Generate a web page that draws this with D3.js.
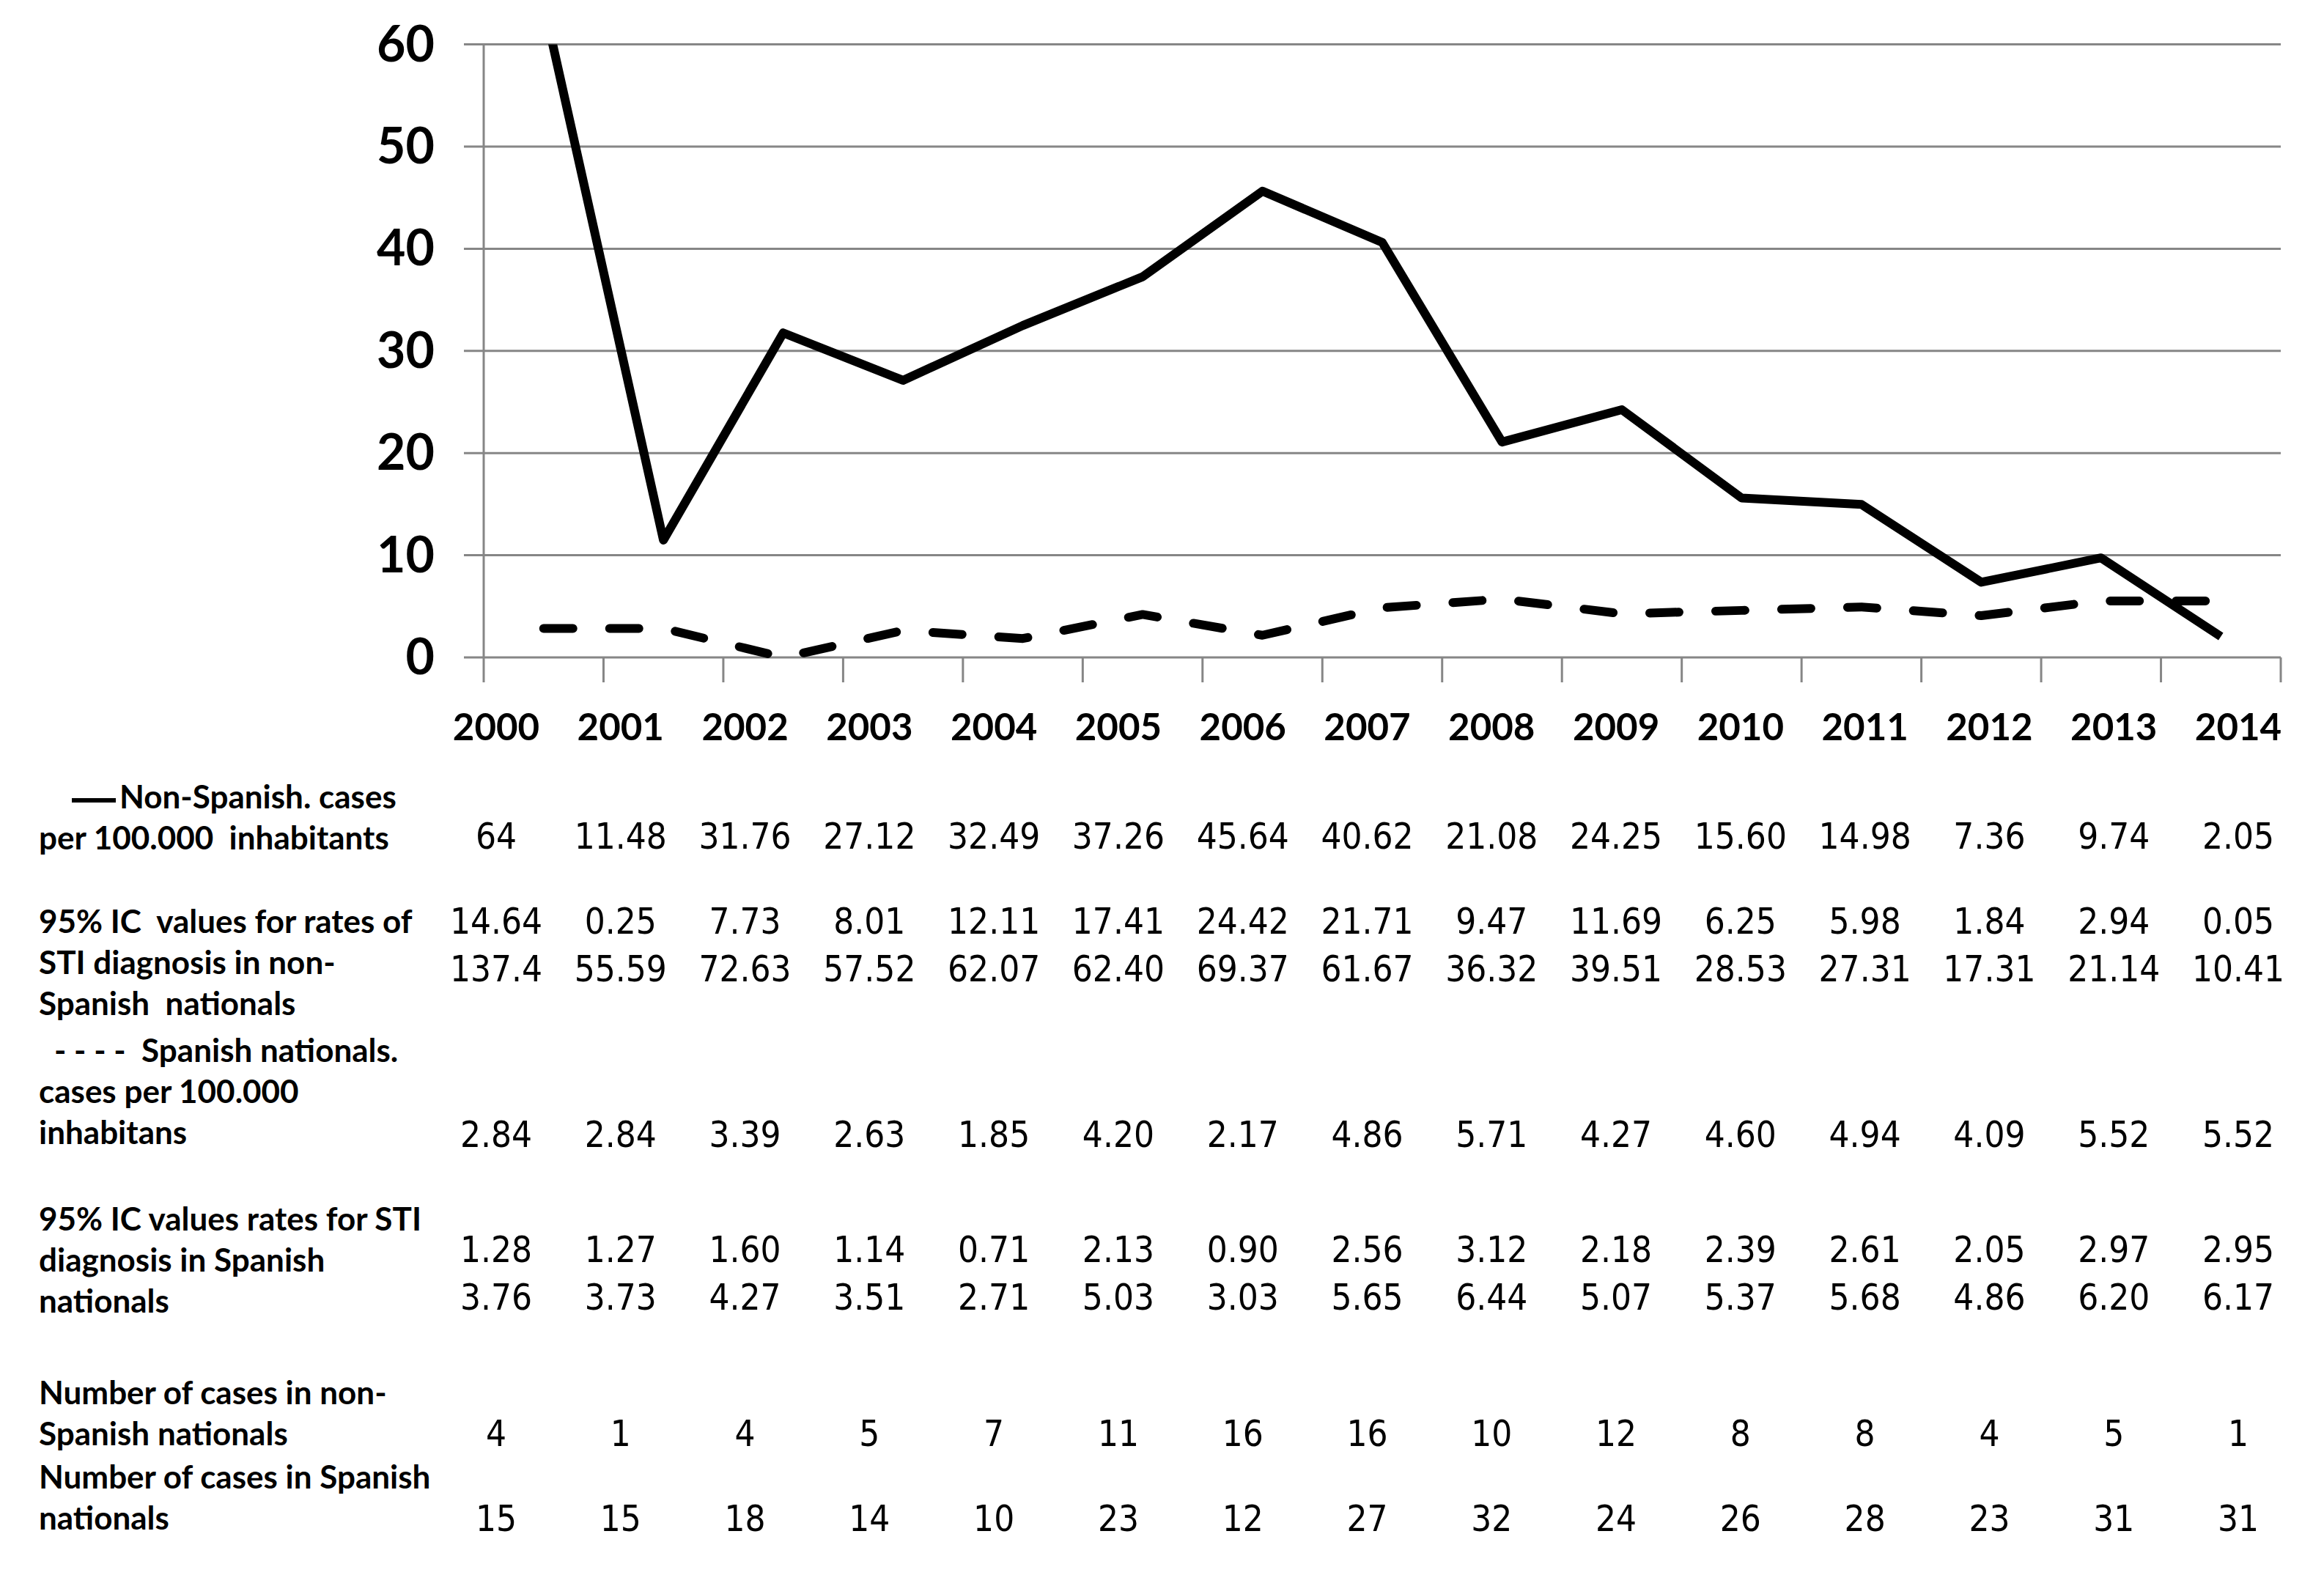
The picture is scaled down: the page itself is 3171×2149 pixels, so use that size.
<!DOCTYPE html>
<html>
<head>
<meta charset="utf-8">
<script src="https://cdn.jsdelivr.net/npm/d3@7"></script>
<style>
    body { margin: 0; background: #ffffff; }
    text { white-space: pre; }
</style>
</head>
<body>
<div id="chart"></div>
<script>
const width = 3171;
const height = 2149;

// Data
const years = ["2000", "2001", "2002", "2003", "2004", "2005", "2006", "2007",
               "2008", "2009", "2010", "2011", "2012", "2013", "2014"];
const yTicks = [0, 10, 20, 30, 40, 50, 60];

// plotted series (the dashed line touches 0 at 2002 in the figure)
const nonSpanishLine = [64, 11.48, 31.76, 27.12, 32.49, 37.26, 45.64, 40.62, 21.08, 24.25, 15.60, 14.98, 7.36, 9.74, 2.05];
const spanishLine = [2.84, 2.84, 0, 2.63, 1.85, 4.20, 2.17, 4.86, 5.71, 4.27, 4.60, 4.94, 4.09, 5.52, 5.52];

// table rows
const nonSpanishRate = ["64", "11.48", "31.76", "27.12", "32.49", "37.26", "45.64", "40.62", "21.08", "24.25", "15.60", "14.98", "7.36", "9.74", "2.05"];
const ciNonSpanishLow = ["14.64", "0.25", "7.73", "8.01", "12.11", "17.41", "24.42", "21.71", "9.47", "11.69", "6.25", "5.98", "1.84", "2.94", "0.05"];
const ciNonSpanishHigh = ["137.4", "55.59", "72.63", "57.52", "62.07", "62.40", "69.37", "61.67", "36.32", "39.51", "28.53", "27.31", "17.31", "21.14", "10.41"];
const spanishRate = ["2.84", "2.84", "3.39", "2.63", "1.85", "4.20", "2.17", "4.86", "5.71", "4.27", "4.60", "4.94", "4.09", "5.52", "5.52"];
const ciSpanishLow = ["1.28", "1.27", "1.60", "1.14", "0.71", "2.13", "0.90", "2.56", "3.12", "2.18", "2.39", "2.61", "2.05", "2.97", "2.95"];
const ciSpanishHigh = ["3.76", "3.73", "4.27", "3.51", "2.71", "5.03", "3.03", "5.65", "6.44", "5.07", "5.37", "5.68", "4.86", "6.20", "6.17"];
const casesNonSpanish = ["4", "1", "4", "5", "7", "11", "16", "16", "10", "12", "8", "8", "4", "5", "1"];
const casesSpanish = ["15", "15", "18", "14", "10", "23", "12", "27", "32", "24", "26", "28", "23", "31", "31"];

const rowLabels = [
    ["Non-Spanish. cases", "per 100.000  inhabitants"],
    ["95% IC  values for rates of", "STI diagnosis in non-", "Spanish  nationals"],
    ["- - - -  Spanish nationals.", "cases per 100.000", "inhabitans"],
    ["95% IC values rates for STI", "diagnosis in Spanish", "nationals"],
    ["Number of cases in non-", "Spanish nationals"],
    ["Number of cases in Spanish", "nationals"]
];
const rowValues = [
    [nonSpanishRate],
    [ciNonSpanishLow, ciNonSpanishHigh],
    [spanishRate],
    [ciSpanishLow, ciSpanishHigh],
    [casesNonSpanish],
    [casesSpanish]
];

// Layout
const plot = {left: 660, right: 3112, top: 60.6, bottom: 897};
const labelTop = [1103, 1273, 1449, 1679, 1916, 2031];
const labelIndent = [110, 0, 21, 0, 0, 0];
const valueTop = [1158, 1274, 1565, 1722, 1973, 2089];
const labelFont = "Lato, 'Open Sans', sans-serif";
const valueFont = "'DejaVu Sans Condensed', 'DejaVu Sans', sans-serif";

const x = d3.scaleBand().domain(years).range([plot.left, plot.right]);
const y = d3.scaleLinear().domain([0, 60]).range([plot.bottom, plot.top]);
const col = d3.scalePoint().domain(years).range([677, 3054]);

const svg = d3.create("svg")
    .attr("viewBox", [0, 0, width, height])
    .attr("width", width)
    .attr("height", height)
    .style("background", "#ffffff");

// gridlines
svg.append("g")
    .selectAll("line")
    .data(yTicks)
    .join("line")
    .attr("x1", plot.left - 27)
    .attr("x2", plot.right)
    .attr("y1", d => y(d))
    .attr("y2", d => y(d))
    .attr("stroke", "#868686")
    .attr("stroke-width", 3);

// vertical axis line
svg.append("line")
    .attr("x1", plot.left).attr("x2", plot.left)
    .attr("y1", y(60)).attr("y2", y(0) + 34)
    .attr("stroke", "#868686")
    .attr("stroke-width", 3);

// category ticks
svg.append("g")
    .selectAll("line")
    .data(years.slice(1).map(d => x(d)).concat(plot.right))
    .join("line")
    .attr("x1", d => d).attr("x2", d => d)
    .attr("y1", y(0)).attr("y2", y(0) + 34)
    .attr("stroke", "#868686")
    .attr("stroke-width", 3);

// y labels
svg.append("g")
    .selectAll("text")
    .data(yTicks)
    .join("text")
    .attr("x", 593)
    .attr("y", d => y(d) + 23)
    .attr("text-anchor", "end")
    .attr("font-family", labelFont)
    .attr("font-weight", "bold")
    .attr("font-size", 68)
    .text(d => d);

// lines
svg.append("clipPath")
    .attr("id", "plot-clip")
    .append("rect")
    .attr("x", plot.left)
    .attr("y", y(60))
    .attr("width", plot.right - plot.left)
    .attr("height", height);

const line = d3.line()
    .x((d, i) => x(years[i]) + x.bandwidth() / 2)
    .y(d => y(d));

const lines = svg.append("g").attr("clip-path", "url(#plot-clip)");

lines.append("path")
    .attr("d", line(spanishLine))
    .attr("fill", "none")
    .attr("stroke", "#000000")
    .attr("stroke-width", 12)
    .attr("stroke-linecap", "round")
    .attr("stroke-linejoin", "round")
    .attr("stroke-dasharray", "40 50");

lines.append("path")
    .attr("d", line(nonSpanishLine))
    .attr("fill", "none")
    .attr("stroke", "#000000")
    .attr("stroke-width", 12)
    .attr("stroke-linejoin", "round");

// years row
svg.append("g")
    .selectAll("text")
    .data(years)
    .join("text")
    .attr("x", d => col(d))
    .attr("y", 1010)
    .attr("text-anchor", "middle")
    .attr("font-family", labelFont)
    .attr("font-weight", "bold")
    .attr("font-size", 51)
    .text(d => d);

// row labels
rowLabels.forEach((lbl, r) => {
    svg.append("g")
        .selectAll("text")
        .data(lbl)
        .join("text")
        .attr("x", (d, i) => 53 + (i === 0 ? labelIndent[r] : 0))
        .attr("y", (d, i) => labelTop[r] + i * 56)
        .attr("font-family", labelFont)
        .attr("font-weight", "bold")
        .attr("font-size", 44)
        .text(d => d);
});

// legend key for the solid line
svg.append("line")
    .attr("x1", 98).attr("x2", 158)
    .attr("y1", 1092).attr("y2", 1092)
    .attr("stroke", "#000000")
    .attr("stroke-width", 6);

// row values
rowValues.forEach((series, r) => {
    series.forEach((vals, k) => {
        svg.append("g")
            .selectAll("text")
            .data(vals)
            .join("text")
            .attr("x", (d, i) => col(years[i]))
            .attr("y", valueTop[r] + k * 65)
            .attr("text-anchor", "middle")
            .attr("font-family", valueFont)
            .attr("font-stretch", "condensed")
            .attr("font-size", 49)
            .attr("fill", "#000000")
            .text(d => d);
    });
});

document.getElementById("chart").append(svg.node());
</script>
</body>
</html>
